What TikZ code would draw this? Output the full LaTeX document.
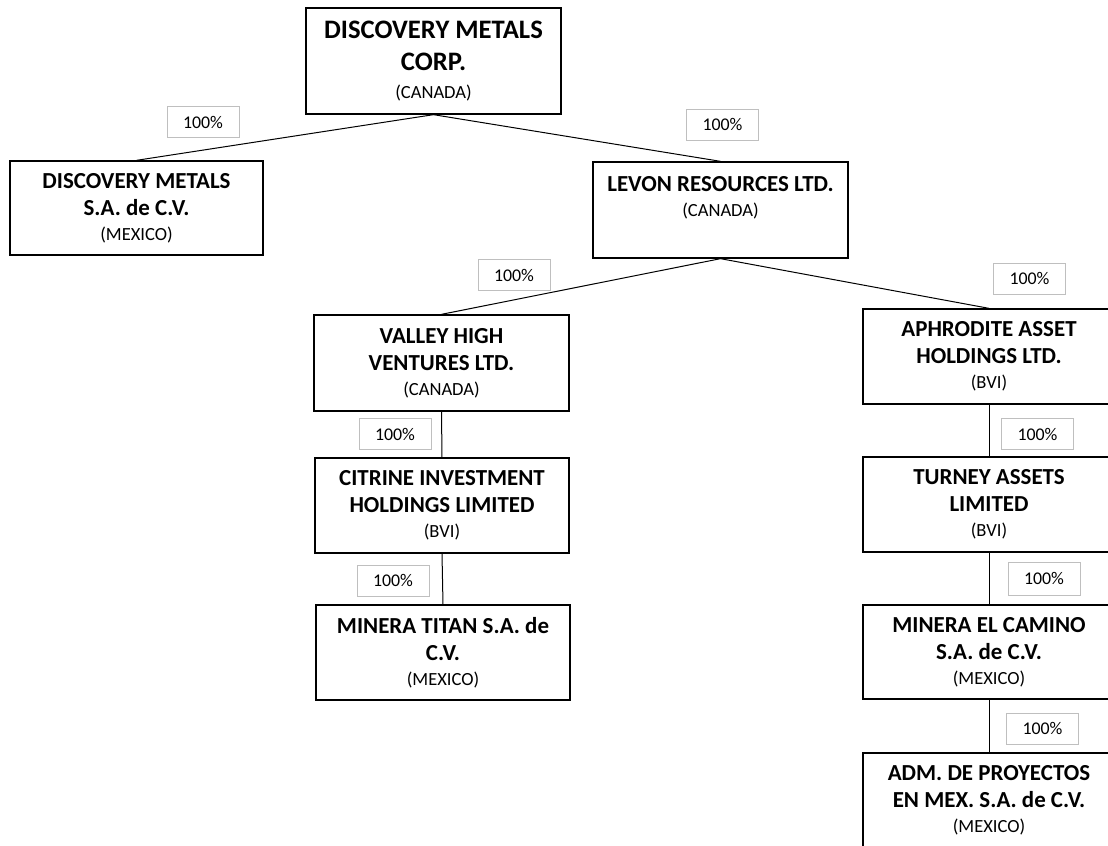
\documentclass[tikz,border=0pt]{standalone}
\usepackage{fontspec}
\setmainfont{Carlito}
\begin{document}
\begin{tikzpicture}[x=0.75pt,y=-0.75pt,
  ent/.style={draw, line width=1pt, minimum width=191.25pt, minimum height=71.25pt,
    align=center, inner sep=0pt, font=\fontsize{17.2}{20.25}\selectfont\bfseries},
  pct/.style={draw=black!25, line width=0.7pt, minimum width=54pt, minimum height=23.25pt,
    inner sep=0pt, font=\fontsize{13.4}{15}\selectfont},
  link/.style={line width=0.75pt}]
\newcommand{\ctry}[1]{{\normalfont\fontsize{13.9}{16}\selectfont #1}}
\useasboundingbox (0,0) rectangle (1108,846);
\clip (0,0) rectangle (1108,846);
\fill[white] (0,0) rectangle (1108,846);

\node[ent, minimum height=79.5pt, font=\fontsize{20}{24}\selectfont\bfseries] (dmc) at (433.5,61)
  {DISCOVERY METALS\\ CORP.\\[-3pt] \ctry{(CANADA)}};
\node[ent, minimum width=189.75pt, minimum height=70.5pt] (dmsa) at (136.5,208)
  {DISCOVERY METALS\\ S.A. de C.V.\\[-1.5pt] \ctry{(MEXICO)}};
\node[ent, minimum height=72pt] (levon) at (720.5,210)
  {LEVON RESOURCES LTD.\\[-1.5pt] \ctry{(CANADA)}\\ \mbox{}};
\node[ent, minimum height=72pt] (valley) at (441.5,363)
  {VALLEY HIGH\\ VENTURES LTD.\\[-1.5pt] \ctry{(CANADA)}};
\node[ent, minimum width=190.5pt] (citrine) at (442,505.5)
  {CITRINE INVESTMENT\\ HOLDINGS LIMITED\\[-1.5pt] \ctry{(BVI)}};
\node[ent, minimum width=190.5pt] (titan) at (443,652.5)
  {MINERA TITAN S.A. de\\ C.V.\\[-1.5pt] \ctry{(MEXICO)}};
\node[ent, minimum width=189pt] (aphro) at (989,356.5)
  {APHRODITE ASSET\\ HOLDINGS LTD.\\[-1.5pt] \ctry{(BVI)}};
\node[ent, minimum width=189pt] (turney) at (989,504.5)
  {TURNEY ASSETS\\ LIMITED\\[-1.5pt] \ctry{(BVI)}};
\node[ent, minimum width=189pt, minimum height=70.5pt] (camino) at (989,652)
  {MINERA EL CAMINO\\ S.A. de C.V.\\[-1.5pt] \ctry{(MEXICO)}};
\node[ent, minimum width=189pt] (adm) at (989,800.5)
  {ADM. DE PROYECTOS\\ EN MEX. S.A. de C.V.\\[-1.5pt] \ctry{(MEXICO)}};

\draw[link] (dmc.south) -- (dmsa.north);
\draw[link] (dmc.south) -- (levon.north);
\draw[link] (levon.south) -- (valley.north);
\draw[link] (levon.south) -- (aphro.north);
\draw[link] (valley.south) -- (citrine.north);
\draw[link] (citrine.south) -- (titan.north);
\draw[link] (aphro.south) -- (turney.north);
\draw[link] (turney.south) -- (camino.north);
\draw[link] (camino.south) -- (adm.north);

\node[pct] (p1) at (203,122) {100\%};
\node[pct] (p2) at (722.5,124.5) {100\%};
\node[pct] (p3) at (514,275) {100\%};
\node[pct] (p4) at (1029.5,278.5) {100\%};
\node[pct] (p5) at (395,434) {100\%};
\node[pct] (p6) at (393,580.5) {100\%};
\node[pct] (p7) at (1037.5,434) {100\%};
\node[pct, minimum height=24.75pt] (p8) at (1044,578.5) {100\%};
\node[pct] (p9) at (1042.5,728.5) {100\%};
\end{tikzpicture}
\end{document}
